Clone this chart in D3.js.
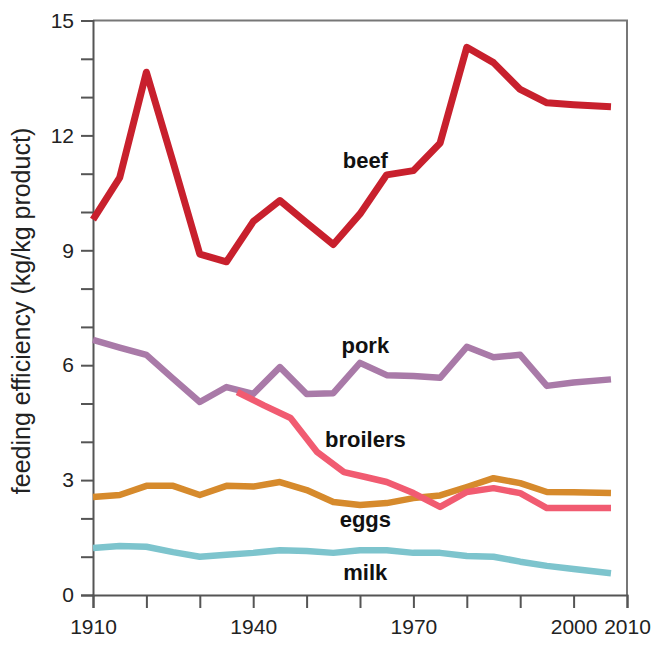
<!DOCTYPE html>
<html>
<head>
<meta charset="utf-8">
<script src="https://cdn.jsdelivr.net/npm/d3@7"></script>
<style>
  body { margin: 0; background: #fff; }
  text { font-family: "Liberation Sans", Arial, sans-serif; }
</style>
</head>
<body>
<svg width="657" height="646"></svg>
<script>
const width = 657
const height = 646

// data
const years = [1910, 1915, 1920, 1925, 1930, 1935, 1940, 1945, 1950, 1955, 1960, 1965, 1970, 1975, 1980, 1985, 1990, 1995, 2000, 2007]
const beef = [9.8, 10.9, 13.65, 11.3, 8.9, 8.7, 9.75, 10.3, 9.72, 9.15, 9.95, 10.97, 11.08, 11.8, 14.3, 13.9, 13.2, 12.85, 12.8, 12.75]
const pork = [6.66, 6.46, 6.27, 5.65, 5.04, 5.43, 5.25, 5.95, 5.25, 5.27, 6.06, 5.74, 5.72, 5.67, 6.48, 6.21, 6.27, 5.46, 5.55, 5.63]
const eggs = [2.56, 2.61, 2.85, 2.85, 2.61, 2.85, 2.83, 2.95, 2.74, 2.43, 2.35, 2.4, 2.53, 2.6, 2.82, 3.05, 2.92, 2.69, 2.68, 2.66]
const milk = [1.23, 1.28, 1.26, 1.12, 1.0, 1.05, 1.1, 1.17, 1.15, 1.1, 1.17, 1.17, 1.1, 1.1, 1.02, 1.0, 0.87, 0.76, 0.68, 0.57]
const broilerYears = [1937, 1942, 1947, 1952, 1957, 1961, 1965, 1970, 1975, 1980, 1985, 1990, 1995, 2007]
const broilers = [5.3, 4.95, 4.62, 3.73, 3.21, 3.08, 2.95, 2.66, 2.3, 2.69, 2.79, 2.66, 2.27, 2.27]

const xTicks = [1910, 1920, 1930, 1940, 1950, 1960, 1970, 1980, 1990, 2000, 2010]
const xTickLabels = {1910: "1910", 1940: "1940", 1970: "1970", 2000: "2000", 2010: "2010"}
const yTicks = d3.range(0, 16, 1)
const yTickLabels = [0, 3, 6, 9, 12, 15]

let margin = {top: 20.5, right: 30, bottom: 51, left: 93}
let plotW = width - margin.left - margin.right,
    plotH = height - margin.top - margin.bottom

const svg = d3.select("svg")
const g = svg.append("g").attr("transform", `translate(${margin.left}, ${margin.top})`)

const x = d3.scaleLinear().domain([1910, 2010]).range([0, plotW])
const y = d3.scaleLinear().domain([0, 15]).range([plotH, 0])

const axisColor = "#555"

// top and right frame
g.append("path")
    .attr("d", `M0,0H${plotW}V${plotH}`)
    .attr("fill", "none")
    .attr("stroke", "#777")
    .attr("stroke-width", 2)

// y axis
const yAxis = g.append("g")
    .call(d3.axisLeft(y).tickValues(yTicks).tickSize(12)
        .tickFormat(d => yTickLabels.includes(d) ? d : ""))
yAxis.select(".domain").attr("stroke", axisColor).attr("stroke-width", 2)
yAxis.selectAll(".tick line").attr("stroke", axisColor).attr("stroke-width", 2)
yAxis.selectAll(".tick text")
    .attr("x", -19)
    .attr("font-size", "21px")
    .attr("fill", "#222")
    .style("font-family", "'Liberation Sans', Arial, sans-serif")

// x axis
const xAxis = g.append("g")
    .attr("transform", `translate(0, ${plotH})`)
    .call(d3.axisBottom(x).tickValues(xTicks).tickSize(13)
        .tickFormat(d => xTickLabels[d] || ""))
xAxis.select(".domain").attr("stroke", axisColor).attr("stroke-width", 2)
xAxis.selectAll(".tick text")
    .attr("y", 24)
    .attr("font-size", "21px")
    .attr("fill", "#222")
    .style("font-family", "'Liberation Sans', Arial, sans-serif")
xAxis.selectAll(".tick line").attr("stroke", axisColor).attr("stroke-width", 2)

// y axis title
svg.append("text")
    .attr("transform", `translate(30, 311) rotate(-90)`)
    .attr("text-anchor", "middle")
    .attr("font-size", "25px")
    .attr("fill", "#222")
    .text("feeding efficiency (kg/kg product)")

// lines
const line = d3.line()
    .x(d => x(d[0]))
    .y(d => y(d[1]))

const series = [
    {name: "milk", xs: years, vals: milk, color: "#7dc4cd", label: 580},
    {name: "eggs", xs: years, vals: eggs, color: "#d68a2c", label: 527},
    {name: "pork", xs: years, vals: pork, color: "#a97aa8", label: 353},
    {name: "broilers", xs: broilerYears, vals: broilers, color: "#f15b71", label: 447},
    {name: "beef", xs: years, vals: beef, color: "#c8202d", label: 168}
]

series.forEach(function(s) {
    g.append("path")
        .datum(s.xs.map((yr, i) => [yr, s.vals[i]]))
        .attr("d", line)
        .attr("fill", "none")
        .attr("stroke", s.color)
        .attr("stroke-width", s.name == "beef" ? 7 : 6.5)
        .attr("stroke-linejoin", "round")

    svg.append("text")
        .attr("x", margin.left + x(1961))
        .attr("y", s.label)
        .attr("text-anchor", "middle")
        .attr("font-size", "22px")
        .attr("font-weight", "bold")
        .attr("fill", "#111")
        .text(s.name)
})
</script>
</body>
</html>
